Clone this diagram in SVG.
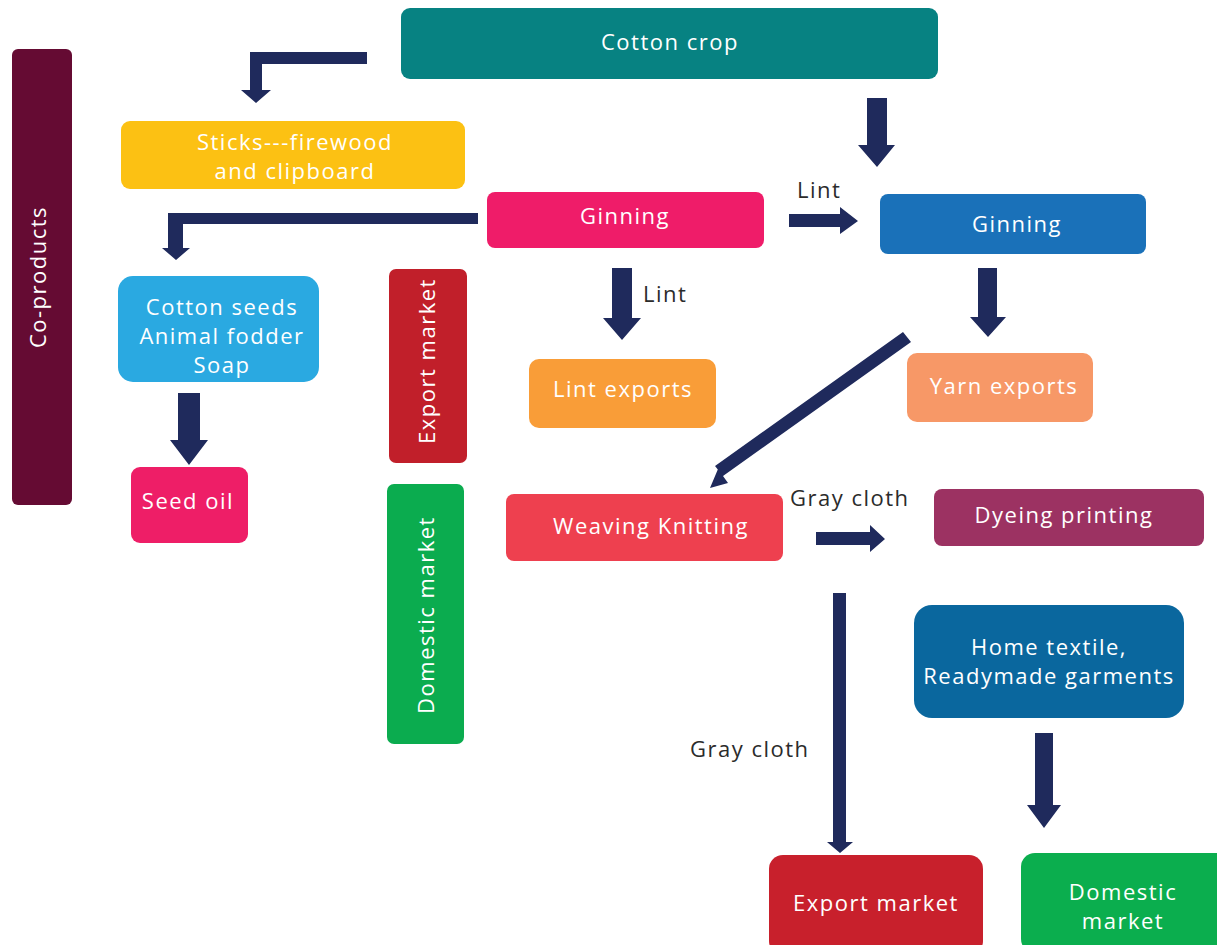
<svg xmlns="http://www.w3.org/2000/svg" width="1217" height="945" viewBox="0 0 1217 945">
<style>
text{font-family:"Open Sans","Liberation Sans",sans-serif;font-size:22px;letter-spacing:1.5px;}
.w{fill:#ffffff;text-anchor:middle;}
.l{fill:#2b2b2b;}
.a{fill:#1f2a5c;}
</style>
<rect width="1217" height="945" fill="#ffffff"/>
<g id="coproducts"><rect x="12" y="49" width="60" height="456" rx="6" fill="#650b33"/><text class="w" transform="translate(46,277) rotate(-90)">Co-products</text></g>
<g id="cotton-crop"><rect x="401" y="8" width="537" height="71" rx="9" fill="#078282"/><text class="w" x="670" y="50">Cotton crop</text></g>
<g id="sticks"><rect x="121" y="121" width="344" height="68" rx="9" fill="#fcc113"/><text class="w" x="295" y="150">Sticks---firewood</text><text class="w" x="295" y="179">and clipboard</text></g>
<g id="ginning1"><rect x="487" y="192" width="277" height="56" rx="8" fill="#ef1c69"/><text class="w" x="625" y="224">Ginning</text></g>
<g id="ginning2"><rect x="880" y="194" width="266" height="60" rx="8" fill="#1a71b9"/><text class="w" x="1017" y="232">Ginning</text></g>
<g id="cotton-seeds"><rect x="118" y="276" width="201" height="106" rx="15" fill="#2aa9e1"/><text class="w" x="222" y="315">Cotton seeds</text><text class="w" x="222" y="344">Animal fodder</text><text class="w" x="222" y="373">Soap</text></g>
<g id="export-market-v"><rect x="389" y="269" width="78" height="194" rx="7" fill="#c11f2a"/><text class="w" transform="translate(435,361) rotate(-90)">Export market</text></g>
<g id="domestic-market-v"><rect x="387" y="484" width="77" height="260" rx="7" fill="#0bac4f"/><text class="w" transform="translate(434,615) rotate(-90)">Domestic market</text></g>
<g id="lint-exports"><rect x="529" y="359" width="187" height="69" rx="10" fill="#f99d38"/><text class="w" x="623" y="397">Lint exports</text></g>
<g id="yarn-exports"><rect x="907" y="353" width="186" height="69" rx="10" fill="#f79867"/><text class="w" x="1004" y="394">Yarn exports</text></g>
<g id="seed-oil"><rect x="131" y="467" width="117" height="76" rx="9" fill="#ee1e67"/><text class="w" x="188" y="509">Seed oil</text></g>
<g id="weaving"><rect x="506" y="494" width="277" height="67" rx="8" fill="#ee404f"/><text class="w" x="651" y="534">Weaving Knitting</text></g>
<g id="dyeing"><rect x="934" y="489" width="270" height="57" rx="8" fill="#9c3262"/><text class="w" x="1064" y="523">Dyeing printing</text></g>
<g id="home-textile"><rect x="914" y="605" width="270" height="113" rx="18" fill="#0a679e"/><text class="w" x="1049" y="655">Home textile,</text><text class="w" x="1049" y="684">Readymade garments</text></g>
<g id="export-market"><rect x="769" y="855" width="214" height="100" rx="14" fill="#c8202c"/><text class="w" x="876" y="911">Export market</text></g>
<g id="domestic-market"><rect x="1021" y="853" width="210" height="100" rx="14" fill="#0bae4e"/><text class="w" x="1123" y="900">Domestic</text><text class="w" x="1123" y="929">market</text></g>
<g id="connectors">
<polygon class="a" points="367,52 367,64 262,64 262,90 271,90 256,103 241,90 250,90 250,52"/>
<polygon class="a" points="478,213 478,224 183,224 183,248 190,248 176,260 162,248 168,248 168,213"/>
<polygon class="a" points="867,98 887,98 887,145 895,145 877,167 858,145 867,145"/>
<polygon class="a" points="789,214 840,214 840,207 858,221 840,234 840,227 789,227"/>
<polygon class="a" points="612,268 632,268 632,318 641,318 622,340 603,318 612,318"/>
<polygon class="a" points="978,268 997,268 997,317 1006,317 988,337 970,317 978,317"/>
<polygon class="a" points="903,332 911,342 723,476 728,483 710,488 718,469 723,476 715,466"/>
<polygon class="a" points="178,393 200,393 200,440 208,440 189,465 170,440 178,440"/>
<polygon class="a" points="816,532 870,532 870,525 885,539 870,552 870,545 816,545"/>
<polygon class="a" points="833,593 846,593 846,842 853,842 840,853 827,842 833,842"/>
<polygon class="a" points="1035,733 1053,733 1053,805 1061,805 1044,828 1027,805 1035,805"/>
<text class="l" x="797" y="198">Lint</text>
<text class="l" x="643" y="302">Lint</text>
<text class="l" x="790" y="506">Gray cloth</text>
<text class="l" x="690" y="757">Gray cloth</text>
</g>
</svg>
